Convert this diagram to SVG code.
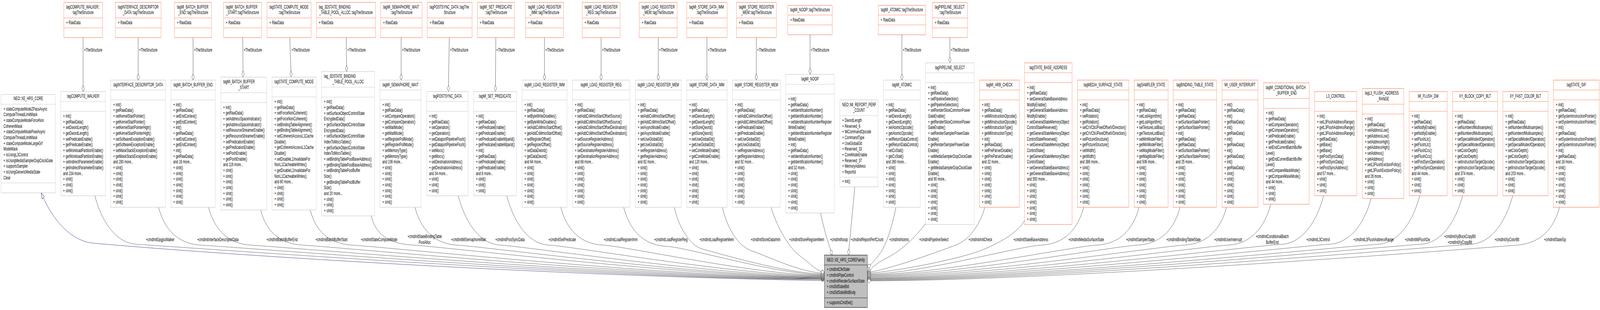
<svg xmlns="http://www.w3.org/2000/svg" width="7199" height="793" viewBox="0 0 7199 793" preserveAspectRatio="none">
<style>
svg:root{width:100%;height:100%;display:block}
text{font-family:"Liberation Sans",Arial,Helvetica,sans-serif;font-size:13px;fill:#000}
.c{text-anchor:middle}
.g rect{fill:#fff;stroke:#bfbfbf}
.g path{fill:none;stroke:#bfbfbf}
.o rect{fill:#fff;stroke:#ff6a3d}
.o path{fill:none;stroke:#ff6a3d}
.root rect{fill:#bfbfbf;stroke:#000}
.root path{fill:none;stroke:#000}
#connectors path{fill:none;stroke:#404040}
#connectors path.inh{stroke:#191970}
</style>
<defs>
<marker id="d" markerUnits="userSpaceOnUse" viewBox="-1 -7 18 14" markerWidth="18" markerHeight="14" refX="15.7" refY="0" orient="auto" overflow="visible"><path d="M0,0L7.85,-5.6L15.7,0L7.85,5.6Z" fill="#fff" stroke="#404040"/></marker>
<marker id="t" markerUnits="userSpaceOnUse" viewBox="-1 -7 18 14" markerWidth="18" markerHeight="14" refX="15.7" refY="0" orient="auto" overflow="visible"><path d="M0,-5.6L15.7,0L0,5.6Z" fill="#fff" stroke="#191970"/></marker>
</defs>
<rect width="7199" height="793" fill="#fff"/>
<g id="connectors">
<path class="inh" d="M3709.1,718 C2500,706 1000,652 421,622 C330,618 240,570 185.6,493.2" marker-end="url(#t)"/>
<path d="M373.9,96.1 L373.9,234.2" marker-end="url(#d)"/>
<path d="M621.8,96.1 L621.8,204.9" marker-end="url(#d)"/>
<path d="M868.7,96.1 L868.7,204.9" marker-end="url(#d)"/>
<path d="M1092.2,96.1 L1093.7,197.3" marker-end="url(#d)"/>
<path d="M1303.7,96.1 L1310.2,197.3" marker-end="url(#d)"/>
<path d="M1557.8,96.1 L1559.7,183.1" marker-end="url(#d)"/>
<path d="M1805,96.1 L1805,204.9" marker-end="url(#d)"/>
<path d="M2021.6,96.1 L2017.4,234.2" marker-end="url(#d)"/>
<path d="M2230.9,96.1 L2229,234.2" marker-end="url(#d)"/>
<path d="M2449.8,96.1 L2449.8,204.9" marker-end="url(#d)"/>
<path d="M2704.6,96.1 L2704.6,204.9" marker-end="url(#d)"/>
<path d="M2961.8,96.1 L2961.8,204.9" marker-end="url(#d)"/>
<path d="M3180.6,96.1 L3180.6,204.9" marker-end="url(#d)"/>
<path d="M3403,96.1 L3403,204.9" marker-end="url(#d)"/>
<path d="M3644.8,89 L3644.8,190.2" marker-end="url(#d)"/>
<path d="M4058,89 L4058,204.9" marker-end="url(#d)"/>
<path d="M4273.9,96.1 L4273.9,160.9" marker-end="url(#d)"/>
<path d="M426.7,500.8 C451.7,555.8 511.7,622 616.7,625 S2781.3,715 3709.1,715" marker-end="url(#d)"/>
<path d="M713.3,530.1 C738.3,585.1 798.3,624 903.3,627 S2867.4,714 3709.1,714" marker-end="url(#d)"/>
<path d="M938.3,530.1 C963.3,585.1 1023.3,624 1128.3,627 S2934.9,713 3709.1,713" marker-end="url(#d)"/>
<path d="M1172.9,537.2 C1197.9,592.2 1257.9,624 1362.9,627 S3005.2,712 3709.1,712" marker-end="url(#d)"/>
<path d="M1395.9,537.2 C1420.9,592.2 1480.9,624 1585.9,627 S3072.1,711 3709.1,711" marker-end="url(#d)"/>
<path d="M1670,551.3 C1690,600 1750,624 1860,627 S3154.4,710 3709.1,710" marker-end="url(#d)"/>
<path d="M1867,530.1 C1892,585.1 1952,624 2057,627 S3213.5,709 3709.1,709" marker-end="url(#d)"/>
<path d="M2061.8,500.8 C2086.8,555.8 2146.8,624 2251.8,627 S3271.9,707.5 3709.1,707.5" marker-end="url(#d)"/>
<path d="M2280.3,500.8 C2305.3,555.8 2365.3,624 2470.3,627 S3337.5,706 3709.1,706" marker-end="url(#d)"/>
<path d="M2523.2,530.1 C2548.2,585.1 2608.2,624 2713.2,627 S3410.3,704.5 3709.1,704.5" marker-end="url(#d)"/>
<path d="M2806,530.1 C2831,585.1 2891,627 2996,630 S3495.2,703 3709.1,703" marker-end="url(#d)"/>
<path d="M3034.4,530.1 C3050,575 3100,628 3160,637 S3544,701 3709.1,701" marker-end="url(#d)"/>
<path d="M3250.7,530.1 C3265,570 3310,628 3383,642 S3600,697 3709.1,699" marker-end="url(#d)"/>
<path d="M3469.2,530.1 C3490,570 3540,630 3600,655 S3670,692 3709.1,697" marker-end="url(#d)"/>
<path d="M3691.8,544.8 C3705,580 3725,620 3745,652.5" marker-end="url(#d)"/>
<path d="M3845.7,478 C3840,520 3825,600 3817.5,652.5" marker-end="url(#d)"/>
<path d="M4031.3,530.1 C4015,575 3990,625 3960,648 S3920,676 3903,684" marker-end="url(#d)"/>
<path d="M4164.5,571.6 C4130,600 4060,640 3990,660 S3925,690 3902.3,694" marker-end="url(#d)"/>
<path d="M4431.2,530.1 C4415,565 4370,612 4300,627 S4000,690 3902.3,697" marker-end="url(#d)"/>
<path d="M4609.9,564 C4590,585 4540,610 4430,637 S4000,697 3902.3,699" marker-end="url(#d)"/>
<path d="M4875.8,530.1 C4850.8,585.1 4790.8,624 4685.8,627 S4137.3,701 3902.3,701" marker-end="url(#d)"/>
<path d="M5124.9,530.1 C5099.9,585.1 5039.9,624 4934.9,627 S4212.1,703 3902.3,703" marker-end="url(#d)"/>
<path d="M5309.4,530.1 C5284.4,585.1 5224.4,624 5119.4,627 S4267.4,705 3902.3,705" marker-end="url(#d)"/>
<path d="M5518.3,530.1 C5493.3,585.1 5433.3,624 5328.3,627 S4330.1,707 3902.3,707" marker-end="url(#d)"/>
<path d="M5717.6,522.4 C5692.6,577.4 5632.6,624 5527.6,627 S4389.9,709 3902.3,709" marker-end="url(#d)"/>
<path d="M5955.3,500.8 C5930.3,555.8 5870.3,622 5765.3,625 S4461.2,711 3902.3,711" marker-end="url(#d)"/>
<path d="M6168.8,507.8 C6143.8,562.8 6083.8,622 5978.8,625 S4525.3,712.5 3902.3,712.5" marker-end="url(#d)"/>
<path d="M6387.7,500.8 C6362.7,555.8 6302.7,622 6197.7,625 S4590.9,714 3902.3,714" marker-end="url(#d)"/>
<path d="M6580.6,500.8 C6555.6,555.8 6495.6,622 6390.6,625 S4648.8,715.5 3902.3,715.5" marker-end="url(#d)"/>
<path d="M6805.9,500.8 C6780.9,555.8 6720.9,622 6615.9,625 S4716.4,717 3902.3,717" marker-end="url(#d)"/>
<path d="M7016.8,530.1 C6991.8,585.1 6931.8,622 6826.8,627 S4779.7,718.5 3902.3,718.5" marker-end="url(#d)"/>
<text x="377.7" y="132.1">+TheStructure</text>
<text x="625.6" y="132.1">+TheStructure</text>
<text x="872.5" y="132.1">+TheStructure</text>
<text x="1096.2" y="132.1">+TheStructure</text>
<text x="1311" y="132.1">+TheStructure</text>
<text x="1562.8" y="132.1">+TheStructure</text>
<text x="1808.4" y="132.1">+TheStructure</text>
<text x="2024.3" y="132.1">+TheStructure</text>
<text x="2233.6" y="132.1">+TheStructure</text>
<text x="2453.6" y="132.1">+TheStructure</text>
<text x="2708.5" y="132.1">+TheStructure</text>
<text x="2965.6" y="132.1">+TheStructure</text>
<text x="3184.5" y="132.1">+TheStructure</text>
<text x="3406.8" y="132.1">+TheStructure</text>
<text x="3647.8" y="132.1">+TheStructure</text>
<text x="4061.9" y="132.1">+TheStructure</text>
<text x="4277.7" y="132.1">+TheStructure</text>
<text class="c" x="720.6" y="616.6">+cmdInitGpgpuWalker</text>
<text class="c" x="980.4" y="616.6">+cmdInitInterfaceDescriptorData</text>
<text class="c" x="1269" y="616.6">+cmdInitBatchBufferEnd</text>
<text class="c" x="1491.6" y="616.6">+cmdInitBatchBufferStart</text>
<text class="c" x="1705.4" y="616.6">+cmdInitStateComputeMode</text>
<text class="c" x="1911" y="609">+cmdInitStateBindingTable</text>
<text class="c" x="1911" y="623.7">PoolAlloc</text>
<text class="c" x="2107.7" y="616.6">+cmdInitMiSemaphoreWait</text>
<text class="c" x="2294.6" y="616.6">+cmdInitPostSyncData</text>
<text class="c" x="2529.5" y="616.6">+cmdInitSetPredicate</text>
<text class="c" x="2792.5" y="616.6">+cmdInitLoadRegisterImm</text>
<text class="c" x="3018.2" y="616.6">+cmdInitLoadRegisterReg</text>
<text class="c" x="3224.7" y="616.6">+cmdInitLoadRegisterMem</text>
<text class="c" x="3444.3" y="616.6">+cmdInitStoreDataImm</text>
<text class="c" x="3629.7" y="616.6">+cmdInitStoreRegisterMem</text>
<text class="c" x="3774.5" y="616.6">+cmdInitNoop</text>
<text class="c" x="3901.2" y="616.6">+cmdInitReportPerfCount</text>
<text class="c" x="4045.5" y="616.6">+cmdInitAtomic</text>
<text class="c" x="4201.4" y="616.6">+cmdInitPipelineSelect</text>
<text class="c" x="4410.9" y="616.6">+cmdInitArbCheck</text>
<text class="c" x="4638" y="616.6">+cmdInitStateBaseAddress</text>
<text class="c" x="4887.3" y="616.6">+cmdInitMediaSurfaceState</text>
<text class="c" x="5130.1" y="616.6">+cmdInitSamplerState</text>
<text class="c" x="5325" y="616.6">+cmdInitBindingTableState</text>
<text class="c" x="5525.8" y="616.6">+cmdInitUserInterrupt</text>
<text class="c" x="5724.5" y="609">+cmdInitConditionalBatch</text>
<text class="c" x="5724.5" y="623.7">BufferEnd</text>
<text class="c" x="5930.6" y="616.6">+cmdInitL3Control</text>
<text class="c" x="6180.5" y="616.6">+cmdInitL3FlushAddressRange</text>
<text class="c" x="6377.5" y="616.6">+cmdInitMiFlushDw</text>
<text class="c" x="6568.5" y="609">+cmdInitXyBlockCopyBlt</text>
<text class="c" x="6568.5" y="623.7">+cmdInitXyCopyBlt</text>
<text class="c" x="6780.3" y="616.6">+cmdInitXyColorBlt</text>
<text class="c" x="6996.5" y="616.6">+cmdInitStateSip</text>
</g>

<g id="node_XE_HPG_CORE" class="g">
<rect x="5" y="241.8" width="244.5" height="251.4"/>
<path d="M5,266.6H249.5M5,467.9H249.5"/>
<text class="c" x="127.3" y="256.5">NEO::XE_HPG_CORE</text>
<text y="282.8"><tspan x="16">+ stateComputeModeZPassAsync</tspan><tspan x="16" dy="14.67">ComputeThreadLimitMask</tspan><tspan x="16" dy="14.67">+ stateComputeModeForceNon</tspan><tspan x="16" dy="14.67">CoherentMask</tspan><tspan x="16" dy="14.67">+ stateComputeModePixelAsync</tspan><tspan x="16" dy="14.67">ComputeThreadLimitMask</tspan><tspan x="16" dy="14.67">+ stateComputeModeLargeGrf</tspan><tspan x="16" dy="14.67">ModeMask</tspan><tspan x="16" dy="14.67">+ isUsingL3Control</tspan><tspan x="16" dy="14.67">+ isUsingMediaSamplerDopClockGate</tspan><tspan x="16" dy="14.67">+ supportsSampler</tspan><tspan x="16" dy="14.67">+ isUsingGenericMediaState</tspan><tspan x="16" dy="14.67">Clear</tspan></text>
</g>

<g id="node_COMPUTE_WALKER_TS" class="o">
<rect x="287" y="6.1" width="174.2" height="90"/>
<path d="M287,46H461.2M287,71.3H461.2"/>
<text x="297.8" y="21.8">tagCOMPUTE_WALKER::</text>
<text class="c" x="374.1" y="36.5">tagTheStructure</text>
<text x="297.8" y="61.8">+ RawData</text>
</g>
<g id="node_COMPUTE_WALKER" class="g">
<rect x="273.2" y="234.2" width="201.3" height="266.6"/>
<path d="M273.2,259.5H474.5M273.2,284.8H474.5"/>
<text class="c" x="373.9" y="249.9">tagCOMPUTE_WALKER</text>
<text y="300.9"><tspan x="284">+ init()</tspan><tspan x="284" dy="14.67">+ getRawData()</tspan><tspan x="284" dy="14.67">+ setDwordLength()</tspan><tspan x="284" dy="14.67">+ getDwordLength()</tspan><tspan x="284" dy="14.67">+ setPredicateEnable()</tspan><tspan x="284" dy="14.67">+ getPredicateEnable()</tspan><tspan x="284" dy="14.67">+ setWorkloadPartitionEnable()</tspan><tspan x="284" dy="14.67">+ getWorkloadPartitionEnable()</tspan><tspan x="284" dy="14.67">+ setIndirectParameterEnable()</tspan><tspan x="284" dy="14.67">+ getIndirectParameterEnable()</tspan><tspan x="284" dy="14.67">and 234 more...</tspan><tspan x="284" dy="14.67">+ sInit()</tspan><tspan x="284" dy="14.67">+ sInit()</tspan><tspan x="284" dy="14.67">+ sInit()</tspan></text>
</g>

<g id="node_IDD_TS" class="o">
<rect x="519.7" y="6.1" width="204.7" height="90"/>
<path d="M519.7,46H724.4M519.7,71.3H724.4"/>
<text x="530.5" y="21.8">tagINTERFACE_DESCRIPTOR</text>
<text class="c" x="622.1" y="36.5">_DATA::tagTheStructure</text>
<text x="530.5" y="61.8">+ RawData</text>
</g>
<g id="node_IDD" class="g">
<rect x="498.3" y="204.9" width="247.1" height="325.3"/>
<path d="M498.3,230.2H745.4M498.3,255.5H745.4"/>
<text class="c" x="621.9" y="220.6">tagINTERFACE_DESCRIPTOR_DATA</text>
<text y="271.6"><tspan x="509.1">+ init()</tspan><tspan x="509.1" dy="14.67">+ getRawData()</tspan><tspan x="509.1" dy="14.67">+ setKernelStartPointer()</tspan><tspan x="509.1" dy="14.67">+ getKernelStartPointer()</tspan><tspan x="509.1" dy="14.67">+ setKernelStartPointerHigh()</tspan><tspan x="509.1" dy="14.67">+ getKernelStartPointerHigh()</tspan><tspan x="509.1" dy="14.67">+ setSoftwareExceptionEnable()</tspan><tspan x="509.1" dy="14.67">+ getSoftwareExceptionEnable()</tspan><tspan x="509.1" dy="14.67">+ setMaskStackExceptionEnable()</tspan><tspan x="509.1" dy="14.67">+ getMaskStackExceptionEnable()</tspan><tspan x="509.1" dy="14.67">and 280 more...</tspan><tspan x="509.1" dy="14.67">+ sInit()</tspan><tspan x="509.1" dy="14.67">+ sInit()</tspan><tspan x="509.1" dy="14.67">+ sInit()</tspan><tspan x="509.1" dy="14.67">+ sInit()</tspan><tspan x="509.1" dy="14.67">+ sInit()</tspan><tspan x="509.1" dy="14.67">+ sInit()</tspan><tspan x="509.1" dy="14.67">+ sInit()</tspan></text>
</g>

<g id="node_BBE_TS" class="o">
<rect x="785.2" y="6.1" width="166.9" height="90"/>
<path d="M785.2,46H952.1M785.2,71.3H952.1"/>
<text x="796" y="21.8">tagMI_BATCH_BUFFER</text>
<text class="c" x="868.7" y="36.5">_END::tagTheStructure</text>
<text x="796" y="61.8">+ RawData</text>
</g>
<g id="node_BBE" class="g">
<rect x="768.8" y="204.9" width="199.7" height="325.3"/>
<path d="M768.8,230.2H968.5M768.8,255.5H968.5"/>
<text class="c" x="868.7" y="220.6">tagMI_BATCH_BUFFER_END</text>
<text y="271.6"><tspan x="779.6">+ init()</tspan><tspan x="779.6" dy="14.67">+ getRawData()</tspan><tspan x="779.6" dy="14.67">+ setEndContext()</tspan><tspan x="779.6" dy="14.67">+ getEndContext()</tspan><tspan x="779.6" dy="14.67">+ init()</tspan><tspan x="779.6" dy="14.67">+ getRawData()</tspan><tspan x="779.6" dy="14.67">+ setEndContext()</tspan><tspan x="779.6" dy="14.67">+ getEndContext()</tspan><tspan x="779.6" dy="14.67">+ init()</tspan><tspan x="779.6" dy="14.67">+ getRawData()</tspan><tspan x="779.6" dy="14.67">and 16 more...</tspan><tspan x="779.6" dy="14.67">+ sInit()</tspan><tspan x="779.6" dy="14.67">+ sInit()</tspan><tspan x="779.6" dy="14.67">+ sInit()</tspan><tspan x="779.6" dy="14.67">+ sInit()</tspan><tspan x="779.6" dy="14.67">+ sInit()</tspan><tspan x="779.6" dy="14.67">+ sInit()</tspan><tspan x="779.6" dy="14.67">+ sInit()</tspan></text>
</g>

<g id="node_BBS_TS" class="o">
<rect x="1005.7" y="6.1" width="171" height="90"/>
<path d="M1005.7,46H1176.7M1005.7,71.3H1176.7"/>
<text x="1016.5" y="21.8">tagMI_BATCH_BUFFER</text>
<text class="c" x="1091.2" y="36.5">_START::tagTheStructure</text>
<text x="1016.5" y="61.8">+ RawData</text>
</g>
<g id="node_BBS" class="g">
<rect x="993.4" y="197.3" width="205.9" height="339.9"/>
<path d="M993.4,237.2H1199.3M993.4,262.5H1199.3"/>
<text x="1004.2" y="213">tagMI_BATCH_BUFFER</text>
<text class="c" x="1096.4" y="227.7">_START</text>
<text y="278.6"><tspan x="1004.2">+ init()</tspan><tspan x="1004.2" dy="14.67">+ getRawData()</tspan><tspan x="1004.2" dy="14.67">+ setAddressSpaceIndicator()</tspan><tspan x="1004.2" dy="14.67">+ getAddressSpaceIndicator()</tspan><tspan x="1004.2" dy="14.67">+ setResourceStreamerEnable()</tspan><tspan x="1004.2" dy="14.67">+ getResourceStreamerEnable()</tspan><tspan x="1004.2" dy="14.67">+ setPredicationEnable()</tspan><tspan x="1004.2" dy="14.67">+ getPredicationEnable()</tspan><tspan x="1004.2" dy="14.67">+ setPoshEnable()</tspan><tspan x="1004.2" dy="14.67">+ getPoshEnable()</tspan><tspan x="1004.2" dy="14.67">and 116 more...</tspan><tspan x="1004.2" dy="14.67">+ sInit()</tspan><tspan x="1004.2" dy="14.67">+ sInit()</tspan><tspan x="1004.2" dy="14.67">+ sInit()</tspan><tspan x="1004.2" dy="14.67">+ sInit()</tspan><tspan x="1004.2" dy="14.67">+ sInit()</tspan><tspan x="1004.2" dy="14.67">+ sInit()</tspan><tspan x="1004.2" dy="14.67">+ sInit()</tspan></text>
</g>

<g id="node_SCM_TS" class="o">
<rect x="1201.5" y="6.1" width="198.3" height="90"/>
<path d="M1201.5,46H1399.8M1201.5,71.3H1399.8"/>
<text x="1212.3" y="21.8">tagSTATE_COMPUTE_MODE</text>
<text class="c" x="1300.7" y="36.5">::tagTheStructure</text>
<text x="1212.3" y="61.8">+ RawData</text>
</g>
<g id="node_SCM" class="g">
<rect x="1223.7" y="197.3" width="198.6" height="339.9"/>
<path d="M1223.7,222.6H1422.3M1223.7,247.9H1422.3"/>
<text class="c" x="1323" y="213">tagSTATE_COMPUTE_MODE</text>
<text y="264"><tspan x="1234.5">+ init()</tspan><tspan x="1234.5" dy="14.67">+ getRawData()</tspan><tspan x="1234.5" dy="14.67">+ setForceNonCoherent()</tspan><tspan x="1234.5" dy="14.67">+ getForceNonCoherent()</tspan><tspan x="1234.5" dy="14.67">+ setBindingTableAlignment()</tspan><tspan x="1234.5" dy="14.67">+ getBindingTableAlignment()</tspan><tspan x="1234.5" dy="14.67">+ setCoherentAccessL1Cache</tspan><tspan x="1234.5" dy="14.67">Disable()</tspan><tspan x="1234.5" dy="14.67">+ getCoherentAccessL1Cache</tspan><tspan x="1234.5" dy="14.67">Disable()</tspan><tspan x="1234.5" dy="14.67">+ setDisableL1InvalidateFor</tspan><tspan x="1234.5" dy="14.67">NonL1CacheableWrites()</tspan><tspan x="1234.5" dy="14.67">+ getDisableL1InvalidateFor</tspan><tspan x="1234.5" dy="14.67">NonL1CacheableWrites()</tspan><tspan x="1234.5" dy="14.67">and 60 more...</tspan><tspan x="1234.5" dy="14.67">+ sInit()</tspan><tspan x="1234.5" dy="14.67">+ sInit()</tspan><tspan x="1234.5" dy="14.67">+ sInit()</tspan><tspan x="1234.5" dy="14.67">+ sInit()</tspan></text>
</g>

<g id="node_BTPA_TS" class="o">
<rect x="1423.9" y="6.1" width="265.6" height="90"/>
<path d="M1423.9,46H1689.5M1423.9,71.3H1689.5"/>
<text x="1434.7" y="21.8">tag_3DSTATE_BINDING</text>
<text class="c" x="1556.7" y="36.5">_TABLE_POOL_ALLOC::tagTheStructure</text>
<text x="1434.7" y="61.8">+ RawData</text>
</g>
<g id="node_BTPA" class="g">
<rect x="1446.8" y="183.1" width="238.5" height="369.2"/>
<path d="M1446.8,223H1685.3M1446.8,248.3H1685.3"/>
<text x="1457.6" y="198.8">tag_3DSTATE_BINDING</text>
<text class="c" x="1566.1" y="213.5">_TABLE_POOL_ALLOC</text>
<text y="264.4"><tspan x="1457.6">+ init()</tspan><tspan x="1457.6" dy="14.67">+ getRawData()</tspan><tspan x="1457.6" dy="14.67">+ setSurfaceObjectControlState</tspan><tspan x="1457.6" dy="14.67">EncryptedData()</tspan><tspan x="1457.6" dy="14.67">+ getSurfaceObjectControlState</tspan><tspan x="1457.6" dy="14.67">EncryptedData()</tspan><tspan x="1457.6" dy="14.67">+ setSurfaceObjectControlState</tspan><tspan x="1457.6" dy="14.67">IndexToMocsTables()</tspan><tspan x="1457.6" dy="14.67">+ getSurfaceObjectControlState</tspan><tspan x="1457.6" dy="14.67">IndexToMocsTables()</tspan><tspan x="1457.6" dy="14.67">+ setBindingTablePoolBaseAddress()</tspan><tspan x="1457.6" dy="14.67">+ getBindingTablePoolBaseAddress()</tspan><tspan x="1457.6" dy="14.67">+ setBindingTablePoolBuffer</tspan><tspan x="1457.6" dy="14.67">Size()</tspan><tspan x="1457.6" dy="14.67">+ getBindingTablePoolBuffer</tspan><tspan x="1457.6" dy="14.67">Size()</tspan><tspan x="1457.6" dy="14.67">and 20 more...</tspan><tspan x="1457.6" dy="14.67">+ sInit()</tspan><tspan x="1457.6" dy="14.67">+ sInit()</tspan><tspan x="1457.6" dy="14.67">+ sInit()</tspan></text>
</g>

<g id="node_SEMW_TS" class="o">
<rect x="1712.8" y="6.1" width="185.9" height="90"/>
<path d="M1712.8,46H1898.7M1712.8,71.3H1898.7"/>
<text x="1723.6" y="21.8">tagMI_SEMAPHORE_WAIT</text>
<text class="c" x="1805.8" y="36.5">::tagTheStructure</text>
<text x="1723.6" y="61.8">+ RawData</text>
</g>
<g id="node_SEMW" class="g">
<rect x="1709.4" y="204.9" width="185.1" height="325.3"/>
<path d="M1709.4,230.2H1894.5M1709.4,255.5H1894.5"/>
<text class="c" x="1802" y="220.6">tagMI_SEMAPHORE_WAIT</text>
<text y="271.6"><tspan x="1720.2">+ init()</tspan><tspan x="1720.2" dy="14.67">+ getRawData()</tspan><tspan x="1720.2" dy="14.67">+ setCompareOperation()</tspan><tspan x="1720.2" dy="14.67">+ getCompareOperation()</tspan><tspan x="1720.2" dy="14.67">+ setWaitMode()</tspan><tspan x="1720.2" dy="14.67">+ getWaitMode()</tspan><tspan x="1720.2" dy="14.67">+ setRegisterPollMode()</tspan><tspan x="1720.2" dy="14.67">+ getRegisterPollMode()</tspan><tspan x="1720.2" dy="14.67">+ setMemoryType()</tspan><tspan x="1720.2" dy="14.67">+ getMemoryType()</tspan><tspan x="1720.2" dy="14.67">and 106 more...</tspan><tspan x="1720.2" dy="14.67">+ sInit()</tspan><tspan x="1720.2" dy="14.67">+ sInit()</tspan><tspan x="1720.2" dy="14.67">+ sInit()</tspan><tspan x="1720.2" dy="14.67">+ sInit()</tspan><tspan x="1720.2" dy="14.67">+ sInit()</tspan><tspan x="1720.2" dy="14.67">+ sInit()</tspan><tspan x="1720.2" dy="14.67">+ sInit()</tspan></text>
</g>

<g id="node_PSD_TS" class="o">
<rect x="1922.5" y="6.1" width="201.6" height="90"/>
<path d="M1922.5,46H2124.1M1922.5,71.3H2124.1"/>
<text x="1933.3" y="21.8">tagPOSTSYNC_DATA::tagThe</text>
<text class="c" x="2023.3" y="36.5">Structure</text>
<text x="1933.3" y="61.8">+ RawData</text>
</g>
<g id="node_PSD" class="g">
<rect x="1919.8" y="234.2" width="186.4" height="266.6"/>
<path d="M1919.8,259.5H2106.2M1919.8,284.8H2106.2"/>
<text class="c" x="2013" y="249.9">tagPOSTSYNC_DATA</text>
<text y="300.9"><tspan x="1930.6">+ init()</tspan><tspan x="1930.6" dy="14.67">+ getRawData()</tspan><tspan x="1930.6" dy="14.67">+ setOperation()</tspan><tspan x="1930.6" dy="14.67">+ getOperation()</tspan><tspan x="1930.6" dy="14.67">+ setDataportPipelineFlush()</tspan><tspan x="1930.6" dy="14.67">+ getDataportPipelineFlush()</tspan><tspan x="1930.6" dy="14.67">+ setMocs()</tspan><tspan x="1930.6" dy="14.67">+ getMocs()</tspan><tspan x="1930.6" dy="14.67">+ setDestinationAddress()</tspan><tspan x="1930.6" dy="14.67">+ getDestinationAddress()</tspan><tspan x="1930.6" dy="14.67">and 34 more...</tspan><tspan x="1930.6" dy="14.67">+ sInit()</tspan><tspan x="1930.6" dy="14.67">+ sInit()</tspan><tspan x="1930.6" dy="14.67">+ sInit()</tspan></text>
</g>

<g id="node_SETP_TS" class="o">
<rect x="2147.9" y="6.1" width="166.8" height="90"/>
<path d="M2147.9,46H2314.7M2147.9,71.3H2314.7"/>
<text x="2158.7" y="21.8">tagMI_SET_PREDICATE</text>
<text class="c" x="2231.3" y="36.5">::tagTheStructure</text>
<text x="2158.7" y="61.8">+ RawData</text>
</g>
<g id="node_SETP" class="g">
<rect x="2130.7" y="234.2" width="193.2" height="266.6"/>
<path d="M2130.7,259.5H2323.9M2130.7,284.8H2323.9"/>
<text class="c" x="2227.3" y="249.9">tagMI_SET_PREDICATE</text>
<text y="300.9"><tspan x="2141.5">+ init()</tspan><tspan x="2141.5" dy="14.67">+ getRawData()</tspan><tspan x="2141.5" dy="14.67">+ setPredicateEnable()</tspan><tspan x="2141.5" dy="14.67">+ getPredicateEnable()</tspan><tspan x="2141.5" dy="14.67">+ setPredicateEnableWparid()</tspan><tspan x="2141.5" dy="14.67">+ getPredicateEnableWparid()</tspan><tspan x="2141.5" dy="14.67">+ init()</tspan><tspan x="2141.5" dy="14.67">+ getRawData()</tspan><tspan x="2141.5" dy="14.67">+ setPredicateEnable()</tspan><tspan x="2141.5" dy="14.67">+ getPredicateEnable()</tspan><tspan x="2141.5" dy="14.67">and 8 more...</tspan><tspan x="2141.5" dy="14.67">+ sInit()</tspan><tspan x="2141.5" dy="14.67">+ sInit()</tspan><tspan x="2141.5" dy="14.67">+ sInit()</tspan></text>
</g>

<g id="node_LRI_TS" class="o">
<rect x="2364.9" y="6.1" width="170.6" height="90"/>
<path d="M2364.9,46H2535.5M2364.9,71.3H2535.5"/>
<text x="2375.7" y="21.8">tagMI_LOAD_REGISTER</text>
<text class="c" x="2450.2" y="36.5">_IMM::tagTheStructure</text>
<text x="2375.7" y="61.8">+ RawData</text>
</g>
<g id="node_LRI" class="g">
<rect x="2348.8" y="204.9" width="202.7" height="325.3"/>
<path d="M2348.8,230.2H2551.5M2348.8,255.5H2551.5"/>
<text class="c" x="2450.2" y="220.6">tagMI_LOAD_REGISTER_IMM</text>
<text y="271.6"><tspan x="2359.6">+ init()</tspan><tspan x="2359.6" dy="14.67">+ getRawData()</tspan><tspan x="2359.6" dy="14.67">+ setByteWriteDisables()</tspan><tspan x="2359.6" dy="14.67">+ getByteWriteDisables()</tspan><tspan x="2359.6" dy="14.67">+ setAddCsMmioStartOffset()</tspan><tspan x="2359.6" dy="14.67">+ getAddCsMmioStartOffset()</tspan><tspan x="2359.6" dy="14.67">+ setRegisterOffset()</tspan><tspan x="2359.6" dy="14.67">+ getRegisterOffset()</tspan><tspan x="2359.6" dy="14.67">+ setDataDword()</tspan><tspan x="2359.6" dy="14.67">+ getDataDword()</tspan><tspan x="2359.6" dy="14.67">and 64 more...</tspan><tspan x="2359.6" dy="14.67">+ sInit()</tspan><tspan x="2359.6" dy="14.67">+ sInit()</tspan><tspan x="2359.6" dy="14.67">+ sInit()</tspan><tspan x="2359.6" dy="14.67">+ sInit()</tspan><tspan x="2359.6" dy="14.67">+ sInit()</tspan><tspan x="2359.6" dy="14.67">+ sInit()</tspan><tspan x="2359.6" dy="14.67">+ sInit()</tspan></text>
</g>

<g id="node_LRR_TS" class="o">
<rect x="2619.3" y="6.1" width="170.7" height="90"/>
<path d="M2619.3,46H2790M2619.3,71.3H2790"/>
<text x="2630.1" y="21.8">tagMI_LOAD_REGISTER</text>
<text class="c" x="2704.7" y="36.5">_REG::tagTheStructure</text>
<text x="2630.1" y="61.8">+ RawData</text>
</g>
<g id="node_LRR" class="g">
<rect x="2575.3" y="204.9" width="258.7" height="325.3"/>
<path d="M2575.3,230.2H2834M2575.3,255.5H2834"/>
<text class="c" x="2704.7" y="220.6">tagMI_LOAD_REGISTER_REG</text>
<text y="271.6"><tspan x="2586.1">+ init()</tspan><tspan x="2586.1" dy="14.67">+ getRawData()</tspan><tspan x="2586.1" dy="14.67">+ setAddCsMmioStartOffsetSource()</tspan><tspan x="2586.1" dy="14.67">+ getAddCsMmioStartOffsetSource()</tspan><tspan x="2586.1" dy="14.67">+ setAddCsMmioStartOffsetDestination()</tspan><tspan x="2586.1" dy="14.67">+ getAddCsMmioStartOffsetDestination()</tspan><tspan x="2586.1" dy="14.67">+ setSourceRegisterAddress()</tspan><tspan x="2586.1" dy="14.67">+ getSourceRegisterAddress()</tspan><tspan x="2586.1" dy="14.67">+ setDestinationRegisterAddress()</tspan><tspan x="2586.1" dy="14.67">+ getDestinationRegisterAddress()</tspan><tspan x="2586.1" dy="14.67">and 68 more...</tspan><tspan x="2586.1" dy="14.67">+ sInit()</tspan><tspan x="2586.1" dy="14.67">+ sInit()</tspan><tspan x="2586.1" dy="14.67">+ sInit()</tspan><tspan x="2586.1" dy="14.67">+ sInit()</tspan><tspan x="2586.1" dy="14.67">+ sInit()</tspan><tspan x="2586.1" dy="14.67">+ sInit()</tspan><tspan x="2586.1" dy="14.67">+ sInit()</tspan></text>
</g>

<g id="node_LRM_TS" class="o">
<rect x="2876.5" y="6.1" width="170.6" height="90"/>
<path d="M2876.5,46H3047.1M2876.5,71.3H3047.1"/>
<text x="2887.3" y="21.8">tagMI_LOAD_REGISTER</text>
<text class="c" x="2961.8" y="36.5">_MEM::tagTheStructure</text>
<text x="2887.3" y="61.8">+ RawData</text>
</g>
<g id="node_LRM" class="g">
<rect x="2858.5" y="204.9" width="206.9" height="325.3"/>
<path d="M2858.5,230.2H3065.4M2858.5,255.5H3065.4"/>
<text class="c" x="2962" y="220.6">tagMI_LOAD_REGISTER_MEM</text>
<text y="271.6"><tspan x="2869.3">+ init()</tspan><tspan x="2869.3" dy="14.67">+ getRawData()</tspan><tspan x="2869.3" dy="14.67">+ setAddCsMmioStartOffset()</tspan><tspan x="2869.3" dy="14.67">+ getAddCsMmioStartOffset()</tspan><tspan x="2869.3" dy="14.67">+ setAsyncModeEnable()</tspan><tspan x="2869.3" dy="14.67">+ getAsyncModeEnable()</tspan><tspan x="2869.3" dy="14.67">+ setUseGlobalGtt()</tspan><tspan x="2869.3" dy="14.67">+ getUseGlobalGtt()</tspan><tspan x="2869.3" dy="14.67">+ setRegisterAddress()</tspan><tspan x="2869.3" dy="14.67">+ getRegisterAddress()</tspan><tspan x="2869.3" dy="14.67">and 92 more...</tspan><tspan x="2869.3" dy="14.67">+ sInit()</tspan><tspan x="2869.3" dy="14.67">+ sInit()</tspan><tspan x="2869.3" dy="14.67">+ sInit()</tspan><tspan x="2869.3" dy="14.67">+ sInit()</tspan><tspan x="2869.3" dy="14.67">+ sInit()</tspan><tspan x="2869.3" dy="14.67">+ sInit()</tspan><tspan x="2869.3" dy="14.67">+ sInit()</tspan></text>
</g>

<g id="node_SDI_TS" class="o">
<rect x="3089.9" y="6.1" width="181.4" height="90"/>
<path d="M3089.9,46H3271.3M3089.9,71.3H3271.3"/>
<text x="3100.7" y="21.8">tagMI_STORE_DATA_IMM</text>
<text class="c" x="3180.6" y="36.5">::tagTheStructure</text>
<text x="3100.7" y="61.8">+ RawData</text>
</g>
<g id="node_SDI" class="g">
<rect x="3089.9" y="204.9" width="181.4" height="325.3"/>
<path d="M3089.9,230.2H3271.3M3089.9,255.5H3271.3"/>
<text class="c" x="3180.6" y="220.6">tagMI_STORE_DATA_IMM</text>
<text y="271.6"><tspan x="3100.7">+ init()</tspan><tspan x="3100.7" dy="14.67">+ getRawData()</tspan><tspan x="3100.7" dy="14.67">+ setDwordLength()</tspan><tspan x="3100.7" dy="14.67">+ getDwordLength()</tspan><tspan x="3100.7" dy="14.67">+ setStoreQword()</tspan><tspan x="3100.7" dy="14.67">+ getStoreQword()</tspan><tspan x="3100.7" dy="14.67">+ setUseGlobalGtt()</tspan><tspan x="3100.7" dy="14.67">+ getUseGlobalGtt()</tspan><tspan x="3100.7" dy="14.67">+ setCoreModeEnable()</tspan><tspan x="3100.7" dy="14.67">+ getCoreModeEnable()</tspan><tspan x="3100.7" dy="14.67">and 120 more...</tspan><tspan x="3100.7" dy="14.67">+ sInit()</tspan><tspan x="3100.7" dy="14.67">+ sInit()</tspan><tspan x="3100.7" dy="14.67">+ sInit()</tspan><tspan x="3100.7" dy="14.67">+ sInit()</tspan><tspan x="3100.7" dy="14.67">+ sInit()</tspan><tspan x="3100.7" dy="14.67">+ sInit()</tspan><tspan x="3100.7" dy="14.67">+ sInit()</tspan></text>
</g>

<g id="node_SRM_TS" class="o">
<rect x="3313.8" y="6.1" width="179.1" height="90"/>
<path d="M3313.8,46H3492.9M3313.8,71.3H3492.9"/>
<text x="3324.6" y="21.8">tagMI_STORE_REGISTER</text>
<text class="c" x="3403.4" y="36.5">_MEM::tagTheStructure</text>
<text x="3324.6" y="61.8">+ RawData</text>
</g>
<g id="node_SRM" class="g">
<rect x="3295.8" y="204.9" width="214.7" height="325.3"/>
<path d="M3295.8,230.2H3510.5M3295.8,255.5H3510.5"/>
<text class="c" x="3403.2" y="220.6">tagMI_STORE_REGISTER_MEM</text>
<text y="271.6"><tspan x="3306.6">+ init()</tspan><tspan x="3306.6" dy="14.67">+ getRawData()</tspan><tspan x="3306.6" dy="14.67">+ setAddCsMmioStartOffset()</tspan><tspan x="3306.6" dy="14.67">+ getAddCsMmioStartOffset()</tspan><tspan x="3306.6" dy="14.67">+ setPredicateEnable()</tspan><tspan x="3306.6" dy="14.67">+ getPredicateEnable()</tspan><tspan x="3306.6" dy="14.67">+ setUseGlobalGtt()</tspan><tspan x="3306.6" dy="14.67">+ getUseGlobalGtt()</tspan><tspan x="3306.6" dy="14.67">+ setRegisterAddress()</tspan><tspan x="3306.6" dy="14.67">+ getRegisterAddress()</tspan><tspan x="3306.6" dy="14.67">and 92 more...</tspan><tspan x="3306.6" dy="14.67">+ sInit()</tspan><tspan x="3306.6" dy="14.67">+ sInit()</tspan><tspan x="3306.6" dy="14.67">+ sInit()</tspan><tspan x="3306.6" dy="14.67">+ sInit()</tspan><tspan x="3306.6" dy="14.67">+ sInit()</tspan><tspan x="3306.6" dy="14.67">+ sInit()</tspan><tspan x="3306.6" dy="14.67">+ sInit()</tspan></text>
</g>

<g id="node_NOOP_TS" class="o">
<rect x="3544.6" y="13.7" width="200.1" height="75.3"/>
<path d="M3544.6,38.4H3744.7M3544.6,63.7H3744.7"/>
<text class="c" x="3644.7" y="28.9">tagMI_NOOP::tagTheStructure</text>
<text x="3555.4" y="54.7">+ RawData</text>
</g>
<g id="node_NOOP" class="g">
<rect x="3535.4" y="190.2" width="218.4" height="354.6"/>
<path d="M3535.4,215.5H3753.8M3535.4,240.8H3753.8"/>
<text class="c" x="3644.6" y="205.9">tagMI_NOOP</text>
<text y="256.9"><tspan x="3546.2">+ init()</tspan><tspan x="3546.2" dy="14.67">+ getRawData()</tspan><tspan x="3546.2" dy="14.67">+ setIdentificationNumber()</tspan><tspan x="3546.2" dy="14.67">+ getIdentificationNumber()</tspan><tspan x="3546.2" dy="14.67">+ setIdentificationNumberRegister</tspan><tspan x="3546.2" dy="14.67">WriteEnable()</tspan><tspan x="3546.2" dy="14.67">+ getIdentificationNumberRegister</tspan><tspan x="3546.2" dy="14.67">WriteEnable()</tspan><tspan x="3546.2" dy="14.67">+ init()</tspan><tspan x="3546.2" dy="14.67">+ getRawData()</tspan><tspan x="3546.2" dy="14.67">+ setIdentificationNumber()</tspan><tspan x="3546.2" dy="14.67">+ getIdentificationNumber()</tspan><tspan x="3546.2" dy="14.67">and 32 more...</tspan><tspan x="3546.2" dy="14.67">+ sInit()</tspan><tspan x="3546.2" dy="14.67">+ sInit()</tspan><tspan x="3546.2" dy="14.67">+ sInit()</tspan><tspan x="3546.2" dy="14.67">+ sInit()</tspan><tspan x="3546.2" dy="14.67">+ sInit()</tspan><tspan x="3546.2" dy="14.67">+ sInit()</tspan><tspan x="3546.2" dy="14.67">+ sInit()</tspan></text>
</g>

<g id="node_REPORT_PERF" class="g">
<rect x="3778.7" y="255.4" width="171.9" height="222.6"/>
<path d="M3778.7,295.9H3950.6M3778.7,453.2H3950.6"/>
<text x="3789.5" y="271.6">NEO::MI_REPORT_PERF</text>
<text class="c" x="3864.7" y="286.3">_COUNT</text>
<text y="312.1"><tspan x="3789.5">+ DwordLength</tspan><tspan x="3789.5" dy="14.67">+ Reserved_6</tspan><tspan x="3789.5" dy="14.67">+ MiCommandOpcode</tspan><tspan x="3789.5" dy="14.67">+ CommandType</tspan><tspan x="3789.5" dy="14.67">+ UseGlobalGtt</tspan><tspan x="3789.5" dy="14.67">+ Reserved_33</tspan><tspan x="3789.5" dy="14.67">+ CoreModeEnable</tspan><tspan x="3789.5" dy="14.67">+ Reserved_37</tspan><tspan x="3789.5" dy="14.67">+ MemoryAddress</tspan><tspan x="3789.5" dy="14.67">+ ReportId</tspan></text>
<text x="3789.5" y="468.5">+ init()</text>
</g>

<g id="node_ATOMIC_TS" class="o">
<rect x="3951.7" y="13.7" width="212.8" height="75.3"/>
<path d="M3951.7,38.4H4164.5M3951.7,63.7H4164.5"/>
<text class="c" x="4058.1" y="28.9">tagMI_ATOMIC::tagTheStructure</text>
<text x="3962.5" y="54.7">+ RawData</text>
</g>
<g id="node_ATOMIC" class="g">
<rect x="3975.4" y="204.9" width="165.4" height="325.3"/>
<path d="M3975.4,230.2H4140.8M3975.4,255.5H4140.8"/>
<text class="c" x="4058.1" y="220.6">tagMI_ATOMIC</text>
<text y="271.6"><tspan x="3986.2">+ init()</tspan><tspan x="3986.2" dy="14.67">+ getRawData()</tspan><tspan x="3986.2" dy="14.67">+ setDwordLength()</tspan><tspan x="3986.2" dy="14.67">+ getDwordLength()</tspan><tspan x="3986.2" dy="14.67">+ setAtomicOpcode()</tspan><tspan x="3986.2" dy="14.67">+ getAtomicOpcode()</tspan><tspan x="3986.2" dy="14.67">+ setReturnDataControl()</tspan><tspan x="3986.2" dy="14.67">+ getReturnDataControl()</tspan><tspan x="3986.2" dy="14.67">+ setCsStall()</tspan><tspan x="3986.2" dy="14.67">+ getCsStall()</tspan><tspan x="3986.2" dy="14.67">and 260 more...</tspan><tspan x="3986.2" dy="14.67">+ sInit()</tspan><tspan x="3986.2" dy="14.67">+ sInit()</tspan><tspan x="3986.2" dy="14.67">+ sInit()</tspan><tspan x="3986.2" dy="14.67">+ sInit()</tspan><tspan x="3986.2" dy="14.67">+ sInit()</tspan><tspan x="3986.2" dy="14.67">+ sInit()</tspan><tspan x="3986.2" dy="14.67">+ sInit()</tspan></text>
</g>

<g id="node_PIPESEL_TS" class="o">
<rect x="4195.1" y="6.1" width="157.2" height="90"/>
<path d="M4195.1,46H4352.3M4195.1,71.3H4352.3"/>
<text x="4205.9" y="21.8">tagPIPELINE_SELECT</text>
<text class="c" x="4273.7" y="36.5">::tagTheStructure</text>
<text x="4205.9" y="61.8">+ RawData</text>
</g>
<g id="node_PIPESEL" class="g">
<rect x="4164.9" y="160.9" width="218.4" height="413.3"/>
<path d="M4164.9,186.2H4383.3M4164.9,211.5H4383.3"/>
<text class="c" x="4274.1" y="176.6">tagPIPELINE_SELECT</text>
<text y="227.6"><tspan x="4175.7">+ init()</tspan><tspan x="4175.7" dy="14.67">+ getRawData()</tspan><tspan x="4175.7" dy="14.67">+ setPipelineSelection()</tspan><tspan x="4175.7" dy="14.67">+ getPipelineSelection()</tspan><tspan x="4175.7" dy="14.67">+ setRenderSliceCommonPower</tspan><tspan x="4175.7" dy="14.67">GateEnable()</tspan><tspan x="4175.7" dy="14.67">+ getRenderSliceCommonPower</tspan><tspan x="4175.7" dy="14.67">GateEnable()</tspan><tspan x="4175.7" dy="14.67">+ setRenderSamplerPowerGate</tspan><tspan x="4175.7" dy="14.67">Enable()</tspan><tspan x="4175.7" dy="14.67">+ getRenderSamplerPowerGate</tspan><tspan x="4175.7" dy="14.67">Enable()</tspan><tspan x="4175.7" dy="14.67">+ setMediaSamplerDopClockGate</tspan><tspan x="4175.7" dy="14.67">Enable()</tspan><tspan x="4175.7" dy="14.67">+ getMediaSamplerDopClockGate</tspan><tspan x="4175.7" dy="14.67">Enable()</tspan><tspan x="4175.7" dy="14.67">and 90 more...</tspan><tspan x="4175.7" dy="14.67">+ sInit()</tspan><tspan x="4175.7" dy="14.67">+ sInit()</tspan><tspan x="4175.7" dy="14.67">+ sInit()</tspan><tspan x="4175.7" dy="14.67">+ sInit()</tspan><tspan x="4175.7" dy="14.67">+ sInit()</tspan><tspan x="4175.7" dy="14.67">+ sInit()</tspan><tspan x="4175.7" dy="14.67">+ sInit()</tspan></text>
</g>

<g id="node_ARB_CHECK" class="o">
<rect x="4407" y="204.9" width="179.2" height="325.3"/>
<path d="M4407,230.2H4586.2M4407,255.5H4586.2"/>
<text class="c" x="4496.6" y="220.6">tagMI_ARB_CHECK</text>
<text y="271.6"><tspan x="4417.8">+ init()</tspan><tspan x="4417.8" dy="14.67">+ getRawData()</tspan><tspan x="4417.8" dy="14.67">+ setMiInstructionOpcode()</tspan><tspan x="4417.8" dy="14.67">+ getMiInstructionOpcode()</tspan><tspan x="4417.8" dy="14.67">+ setMiInstructionType()</tspan><tspan x="4417.8" dy="14.67">+ getMiInstructionType()</tspan><tspan x="4417.8" dy="14.67">+ init()</tspan><tspan x="4417.8" dy="14.67">+ getRawData()</tspan><tspan x="4417.8" dy="14.67">+ setPreParserDisable()</tspan><tspan x="4417.8" dy="14.67">+ getPreParserDisable()</tspan><tspan x="4417.8" dy="14.67">and 32 more...</tspan><tspan x="4417.8" dy="14.67">+ sInit()</tspan><tspan x="4417.8" dy="14.67">+ sInit()</tspan><tspan x="4417.8" dy="14.67">+ sInit()</tspan><tspan x="4417.8" dy="14.67">+ sInit()</tspan><tspan x="4417.8" dy="14.67">+ sInit()</tspan><tspan x="4417.8" dy="14.67">+ sInit()</tspan><tspan x="4417.8" dy="14.67">+ sInit()</tspan></text>
</g>

<g id="node_STATE_BASE_ADDRESS" class="o">
<rect x="4609.9" y="160.9" width="213.8" height="413.3"/>
<path d="M4609.9,186.2H4823.7M4609.9,211.5H4823.7"/>
<text class="c" x="4716.8" y="176.6">tagSTATE_BASE_ADDRESS</text>
<text y="227.6"><tspan x="4620.7">+ init()</tspan><tspan x="4620.7" dy="14.67">+ getRawData()</tspan><tspan x="4620.7" dy="14.67">+ setGeneralStateBaseAddress</tspan><tspan x="4620.7" dy="14.67">ModifyEnable()</tspan><tspan x="4620.7" dy="14.67">+ getGeneralStateBaseAddress</tspan><tspan x="4620.7" dy="14.67">ModifyEnable()</tspan><tspan x="4620.7" dy="14.67">+ setGeneralStateMemoryObject</tspan><tspan x="4620.7" dy="14.67">ControlStateReserved()</tspan><tspan x="4620.7" dy="14.67">+ getGeneralStateMemoryObject</tspan><tspan x="4620.7" dy="14.67">ControlStateReserved()</tspan><tspan x="4620.7" dy="14.67">+ setGeneralStateMemoryObject</tspan><tspan x="4620.7" dy="14.67">ControlState()</tspan><tspan x="4620.7" dy="14.67">+ getGeneralStateMemoryObject</tspan><tspan x="4620.7" dy="14.67">ControlState()</tspan><tspan x="4620.7" dy="14.67">+ setGeneralStateBaseAddress()</tspan><tspan x="4620.7" dy="14.67">+ getGeneralStateBaseAddress()</tspan><tspan x="4620.7" dy="14.67">and 550 more...</tspan><tspan x="4620.7" dy="14.67">+ sInit()</tspan><tspan x="4620.7" dy="14.67">+ sInit()</tspan><tspan x="4620.7" dy="14.67">+ sInit()</tspan><tspan x="4620.7" dy="14.67">+ sInit()</tspan><tspan x="4620.7" dy="14.67">+ sInit()</tspan><tspan x="4620.7" dy="14.67">+ sInit()</tspan><tspan x="4620.7" dy="14.67">+ sInit()</tspan></text>
</g>

<g id="node_MEDIA_SURFACE_STATE" class="o">
<rect x="4847.8" y="204.9" width="231.2" height="325.3"/>
<path d="M4847.8,230.2H5079M4847.8,255.5H5079"/>
<text class="c" x="4963.4" y="220.6">tagMEDIA_SURFACE_STATE</text>
<text y="271.6"><tspan x="4858.6">+ init()</tspan><tspan x="4858.6" dy="14.67">+ getRawData()</tspan><tspan x="4858.6" dy="14.67">+ setRotation()</tspan><tspan x="4858.6" dy="14.67">+ getRotation()</tspan><tspan x="4858.6" dy="14.67">+ setCrVCbUPixelOffsetVDirection()</tspan><tspan x="4858.6" dy="14.67">+ getCrVCbUPixelOffsetVDirection()</tspan><tspan x="4858.6" dy="14.67">+ setPictureStructure()</tspan><tspan x="4858.6" dy="14.67">+ getPictureStructure()</tspan><tspan x="4858.6" dy="14.67">+ setWidth()</tspan><tspan x="4858.6" dy="14.67">+ getWidth()</tspan><tspan x="4858.6" dy="14.67">and 386 more...</tspan><tspan x="4858.6" dy="14.67">+ sInit()</tspan><tspan x="4858.6" dy="14.67">+ sInit()</tspan><tspan x="4858.6" dy="14.67">+ sInit()</tspan><tspan x="4858.6" dy="14.67">+ sInit()</tspan><tspan x="4858.6" dy="14.67">+ sInit()</tspan><tspan x="4858.6" dy="14.67">+ sInit()</tspan><tspan x="4858.6" dy="14.67">+ sInit()</tspan></text>
</g>

<g id="node_SAMPLER_STATE" class="o">
<rect x="5103.1" y="204.9" width="152.3" height="325.3"/>
<path d="M5103.1,230.2H5255.4M5103.1,255.5H5255.4"/>
<text class="c" x="5179.3" y="220.6">tagSAMPLER_STATE</text>
<text y="271.6"><tspan x="5113.9">+ init()</tspan><tspan x="5113.9" dy="14.67">+ getRawData()</tspan><tspan x="5113.9" dy="14.67">+ setLodAlgorithm()</tspan><tspan x="5113.9" dy="14.67">+ getLodAlgorithm()</tspan><tspan x="5113.9" dy="14.67">+ setTextureLodBias()</tspan><tspan x="5113.9" dy="14.67">+ getTextureLodBias()</tspan><tspan x="5113.9" dy="14.67">+ setMinModeFilter()</tspan><tspan x="5113.9" dy="14.67">+ getMinModeFilter()</tspan><tspan x="5113.9" dy="14.67">+ setMagModeFilter()</tspan><tspan x="5113.9" dy="14.67">+ getMagModeFilter()</tspan><tspan x="5113.9" dy="14.67">and 506 more...</tspan><tspan x="5113.9" dy="14.67">+ sInit()</tspan><tspan x="5113.9" dy="14.67">+ sInit()</tspan><tspan x="5113.9" dy="14.67">+ sInit()</tspan><tspan x="5113.9" dy="14.67">+ sInit()</tspan><tspan x="5113.9" dy="14.67">+ sInit()</tspan><tspan x="5113.9" dy="14.67">+ sInit()</tspan><tspan x="5113.9" dy="14.67">+ sInit()</tspan></text>
</g>

<g id="node_BINDING_TABLE_STATE" class="o">
<rect x="5279.1" y="204.9" width="194.8" height="325.3"/>
<path d="M5279.1,230.2H5473.9M5279.1,255.5H5473.9"/>
<text class="c" x="5376.5" y="220.6">tagBINDING_TABLE_STATE</text>
<text y="271.6"><tspan x="5289.9">+ init()</tspan><tspan x="5289.9" dy="14.67">+ getRawData()</tspan><tspan x="5289.9" dy="14.67">+ getRawData()</tspan><tspan x="5289.9" dy="14.67">+ setSurfaceStatePointer()</tspan><tspan x="5289.9" dy="14.67">+ getSurfaceStatePointer()</tspan><tspan x="5289.9" dy="14.67">+ init()</tspan><tspan x="5289.9" dy="14.67">+ getRawData()</tspan><tspan x="5289.9" dy="14.67">+ getRawData()</tspan><tspan x="5289.9" dy="14.67">+ setSurfaceStatePointer()</tspan><tspan x="5289.9" dy="14.67">+ getSurfaceStatePointer()</tspan><tspan x="5289.9" dy="14.67">and 25 more...</tspan><tspan x="5289.9" dy="14.67">+ sInit()</tspan><tspan x="5289.9" dy="14.67">+ sInit()</tspan><tspan x="5289.9" dy="14.67">+ sInit()</tspan><tspan x="5289.9" dy="14.67">+ sInit()</tspan><tspan x="5289.9" dy="14.67">+ sInit()</tspan><tspan x="5289.9" dy="14.67">+ sInit()</tspan><tspan x="5289.9" dy="14.67">+ sInit()</tspan></text>
</g>

<g id="node_MI_USER_INTERRUPT" class="o">
<rect x="5498" y="204.9" width="162.6" height="325.3"/>
<path d="M5498,230.2H5660.6M5498,255.5H5660.6"/>
<text class="c" x="5579.3" y="220.6">MI_USER_INTERRUPT</text>
<text y="271.6"><tspan x="5508.8">+ init()</tspan><tspan x="5508.8" dy="14.67">+ getRawData()</tspan><tspan x="5508.8" dy="14.67">+ init()</tspan><tspan x="5508.8" dy="14.67">+ getRawData()</tspan><tspan x="5508.8" dy="14.67">+ init()</tspan><tspan x="5508.8" dy="14.67">+ getRawData()</tspan><tspan x="5508.8" dy="14.67">+ init()</tspan><tspan x="5508.8" dy="14.67">+ getRawData()</tspan><tspan x="5508.8" dy="14.67">+ init()</tspan><tspan x="5508.8" dy="14.67">+ getRawData()</tspan><tspan x="5508.8" dy="14.67">+ init()</tspan><tspan x="5508.8" dy="14.67">+ getRawData()</tspan><tspan x="5508.8" dy="14.67">+ sInit()</tspan><tspan x="5508.8" dy="14.67">+ sInit()</tspan><tspan x="5508.8" dy="14.67">+ sInit()</tspan><tspan x="5508.8" dy="14.67">+ sInit()</tspan><tspan x="5508.8" dy="14.67">+ sInit()</tspan><tspan x="5508.8" dy="14.67">+ sInit()</tspan></text>
</g>

<g id="node_COND_BBE" class="o">
<rect x="5684.7" y="211.9" width="205.5" height="310.5"/>
<path d="M5684.7,251.8H5890.2M5684.7,277.1H5890.2"/>
<text x="5695.5" y="227.6">tagMI_CONDITIONAL_BATCH</text>
<text class="c" x="5787.5" y="242.3">_BUFFER_END</text>
<text y="293.2"><tspan x="5695.5">+ init()</tspan><tspan x="5695.5" dy="14.67">+ getRawData()</tspan><tspan x="5695.5" dy="14.67">+ setCompareOperation()</tspan><tspan x="5695.5" dy="14.67">+ getCompareOperation()</tspan><tspan x="5695.5" dy="14.67">+ setPredicateEnable()</tspan><tspan x="5695.5" dy="14.67">+ getPredicateEnable()</tspan><tspan x="5695.5" dy="14.67">+ setEndCurrentBatchBuffer</tspan><tspan x="5695.5" dy="14.67">Level()</tspan><tspan x="5695.5" dy="14.67">+ getEndCurrentBatchBuffer</tspan><tspan x="5695.5" dy="14.67">Level()</tspan><tspan x="5695.5" dy="14.67">+ setCompareMaskMode()</tspan><tspan x="5695.5" dy="14.67">+ getCompareMaskMode()</tspan><tspan x="5695.5" dy="14.67">and 44 more...</tspan><tspan x="5695.5" dy="14.67">+ sInit()</tspan><tspan x="5695.5" dy="14.67">+ sInit()</tspan><tspan x="5695.5" dy="14.67">+ sInit()</tspan></text>
</g>

<g id="node_L3_CONTROL" class="o">
<rect x="5914.7" y="234.2" width="190.5" height="266.6"/>
<path d="M5914.7,259.5H6105.2M5914.7,284.8H6105.2"/>
<text class="c" x="6010" y="249.9">L3_CONTROL</text>
<text y="300.9"><tspan x="5925.5">+ init()</tspan><tspan x="5925.5" dy="14.67">+ setL3FlushAddressRange()</tspan><tspan x="5925.5" dy="14.67">+ getL3FlushAddressRange()</tspan><tspan x="5925.5" dy="14.67">+ getL3FlushAddressRange()</tspan><tspan x="5925.5" dy="14.67">+ getRawData()</tspan><tspan x="5925.5" dy="14.67">+ getBase()</tspan><tspan x="5925.5" dy="14.67">+ getBase()</tspan><tspan x="5925.5" dy="14.67">+ getPostSyncData()</tspan><tspan x="5925.5" dy="14.67">+ getPostSyncData()</tspan><tspan x="5925.5" dy="14.67">+ setPostSyncAddress()</tspan><tspan x="5925.5" dy="14.67">and 57 more...</tspan><tspan x="5925.5" dy="14.67">+ sInit()</tspan><tspan x="5925.5" dy="14.67">+ sInit()</tspan><tspan x="5925.5" dy="14.67">+ sInit()</tspan></text>
</g>

<g id="node_L3_FLUSH_ADDRESS_RANGE" class="o">
<rect x="6130.1" y="226.6" width="186.4" height="281.2"/>
<path d="M6130.1,266.5H6316.5M6130.1,291.8H6316.5"/>
<text x="6140.9" y="242.3">tagL3_FLUSH_ADDRESS</text>
<text class="c" x="6223.3" y="257">_RANGE</text>
<text y="307.9"><tspan x="6140.9">+ init()</tspan><tspan x="6140.9" dy="14.67">+ getRawData()</tspan><tspan x="6140.9" dy="14.67">+ setAddressLow()</tspan><tspan x="6140.9" dy="14.67">+ getAddressLow()</tspan><tspan x="6140.9" dy="14.67">+ setAddressHigh()</tspan><tspan x="6140.9" dy="14.67">+ getAddressHigh()</tspan><tspan x="6140.9" dy="14.67">+ setAddress()</tspan><tspan x="6140.9" dy="14.67">+ getAddress()</tspan><tspan x="6140.9" dy="14.67">+ setL3FlushEvictionPolicy()</tspan><tspan x="6140.9" dy="14.67">+ getL3FlushEvictionPolicy()</tspan><tspan x="6140.9" dy="14.67">and 26 more...</tspan><tspan x="6140.9" dy="14.67">+ sInit()</tspan><tspan x="6140.9" dy="14.67">+ sInit()</tspan><tspan x="6140.9" dy="14.67">+ sInit()</tspan></text>
</g>

<g id="node_MI_FLUSH_DW" class="o">
<rect x="6340.6" y="234.2" width="171.1" height="266.6"/>
<path d="M6340.6,259.5H6511.7M6340.6,284.8H6511.7"/>
<text class="c" x="6426.2" y="249.9">MI_FLUSH_DW</text>
<text y="300.9"><tspan x="6351.4">+ init()</tspan><tspan x="6351.4" dy="14.67">+ getRawData()</tspan><tspan x="6351.4" dy="14.67">+ setNotifyEnable()</tspan><tspan x="6351.4" dy="14.67">+ getNotifyEnable()</tspan><tspan x="6351.4" dy="14.67">+ setFlushLlc()</tspan><tspan x="6351.4" dy="14.67">+ getFlushLlc()</tspan><tspan x="6351.4" dy="14.67">+ setFlushCcs()</tspan><tspan x="6351.4" dy="14.67">+ getFlushCcs()</tspan><tspan x="6351.4" dy="14.67">+ setPostSyncOperation()</tspan><tspan x="6351.4" dy="14.67">+ getPostSyncOperation()</tspan><tspan x="6351.4" dy="14.67">and 44 more...</tspan><tspan x="6351.4" dy="14.67">+ sInit()</tspan><tspan x="6351.4" dy="14.67">+ sInit()</tspan><tspan x="6351.4" dy="14.67">+ sInit()</tspan></text>
</g>

<g id="node_XY_BLOCK_COPY_BLT" class="o">
<rect x="6535.4" y="234.2" width="202.8" height="266.6"/>
<path d="M6535.4,259.5H6738.2M6535.4,284.8H6738.2"/>
<text class="c" x="6636.8" y="249.9">XY_BLOCK_COPY_BLT</text>
<text y="300.9"><tspan x="6546.2">+ init()</tspan><tspan x="6546.2" dy="14.67">+ getRawData()</tspan><tspan x="6546.2" dy="14.67">+ setNumberofMultisamples()</tspan><tspan x="6546.2" dy="14.67">+ getNumberofMultisamples()</tspan><tspan x="6546.2" dy="14.67">+ setSpecialModeofOperation()</tspan><tspan x="6546.2" dy="14.67">+ getSpecialModeofOperation()</tspan><tspan x="6546.2" dy="14.67">+ setColorDepth()</tspan><tspan x="6546.2" dy="14.67">+ getColorDepth()</tspan><tspan x="6546.2" dy="14.67">+ setInstructionTargetOpcode()</tspan><tspan x="6546.2" dy="14.67">+ getInstructionTargetOpcode()</tspan><tspan x="6546.2" dy="14.67">and 374 more...</tspan><tspan x="6546.2" dy="14.67">+ sInit()</tspan><tspan x="6546.2" dy="14.67">+ sInit()</tspan><tspan x="6546.2" dy="14.67">+ sInit()</tspan></text>
</g>

<g id="node_XY_FAST_COLOR_BLT" class="o">
<rect x="6762.3" y="234.2" width="203.2" height="266.6"/>
<path d="M6762.3,259.5H6965.5M6762.3,284.8H6965.5"/>
<text class="c" x="6863.9" y="249.9">XY_FAST_COLOR_BLT</text>
<text y="300.9"><tspan x="6773.1">+ init()</tspan><tspan x="6773.1" dy="14.67">+ getRawData()</tspan><tspan x="6773.1" dy="14.67">+ setNumberofMultisamples()</tspan><tspan x="6773.1" dy="14.67">+ getNumberofMultisamples()</tspan><tspan x="6773.1" dy="14.67">+ setSpecialModeofOperation()</tspan><tspan x="6773.1" dy="14.67">+ getSpecialModeofOperation()</tspan><tspan x="6773.1" dy="14.67">+ setColorDepth()</tspan><tspan x="6773.1" dy="14.67">+ getColorDepth()</tspan><tspan x="6773.1" dy="14.67">+ setInstructionTargetOpcode()</tspan><tspan x="6773.1" dy="14.67">+ getInstructionTargetOpcode()</tspan><tspan x="6773.1" dy="14.67">and 203 more...</tspan><tspan x="6773.1" dy="14.67">+ sInit()</tspan><tspan x="6773.1" dy="14.67">+ sInit()</tspan><tspan x="6773.1" dy="14.67">+ sInit()</tspan></text>
</g>

<g id="node_STATE_SIP" class="o">
<rect x="6989.2" y="204.9" width="206.3" height="325.3"/>
<path d="M6989.2,230.2H7195.5M6989.2,255.5H7195.5"/>
<text class="c" x="7092.4" y="220.6">tagSTATE_SIP</text>
<text y="271.6"><tspan x="7000">+ init()</tspan><tspan x="7000" dy="14.67">+ getRawData()</tspan><tspan x="7000" dy="14.67">+ getSystemInstructionPointer()</tspan><tspan x="7000" dy="14.67">+ setSystemInstructionPointer()</tspan><tspan x="7000" dy="14.67">+ init()</tspan><tspan x="7000" dy="14.67">+ getRawData()</tspan><tspan x="7000" dy="14.67">+ setSystemInstructionPointer()</tspan><tspan x="7000" dy="14.67">+ getSystemInstructionPointer()</tspan><tspan x="7000" dy="14.67">+ init()</tspan><tspan x="7000" dy="14.67">+ getRawData()</tspan><tspan x="7000" dy="14.67">and 18 more...</tspan><tspan x="7000" dy="14.67">+ sInit()</tspan><tspan x="7000" dy="14.67">+ sInit()</tspan><tspan x="7000" dy="14.67">+ sInit()</tspan><tspan x="7000" dy="14.67">+ sInit()</tspan><tspan x="7000" dy="14.67">+ sInit()</tspan><tspan x="7000" dy="14.67">+ sInit()</tspan><tspan x="7000" dy="14.67">+ sInit()</tspan></text>
</g>

<g id="node_XE_HPG_COREFamily" class="root">
<rect x="3709.1" y="652.5" width="193.2" height="134"/>
<path d="M3709.1,677.8H3902.3M3709.1,762H3902.3"/>
<text class="c" x="3805.7" y="668.7">NEO::XE_HPG_COREFamily</text>
<text y="693.4"><tspan x="3719.9">+ cmdInitCfeState</tspan><tspan x="3719.9" dy="14.67">+ cmdInitPipeControl</tspan><tspan x="3719.9" dy="14.67">+ cmdInitRenderSurfaceState</tspan><tspan x="3719.9" dy="14.67">+ cmd3dStateBtd</tspan><tspan x="3719.9" dy="14.67">+ cmd3dStateBtdBody</tspan></text>
<text x="3719.9" y="777.6">+ supportsCmdSet()</text>
</g>
</svg>
